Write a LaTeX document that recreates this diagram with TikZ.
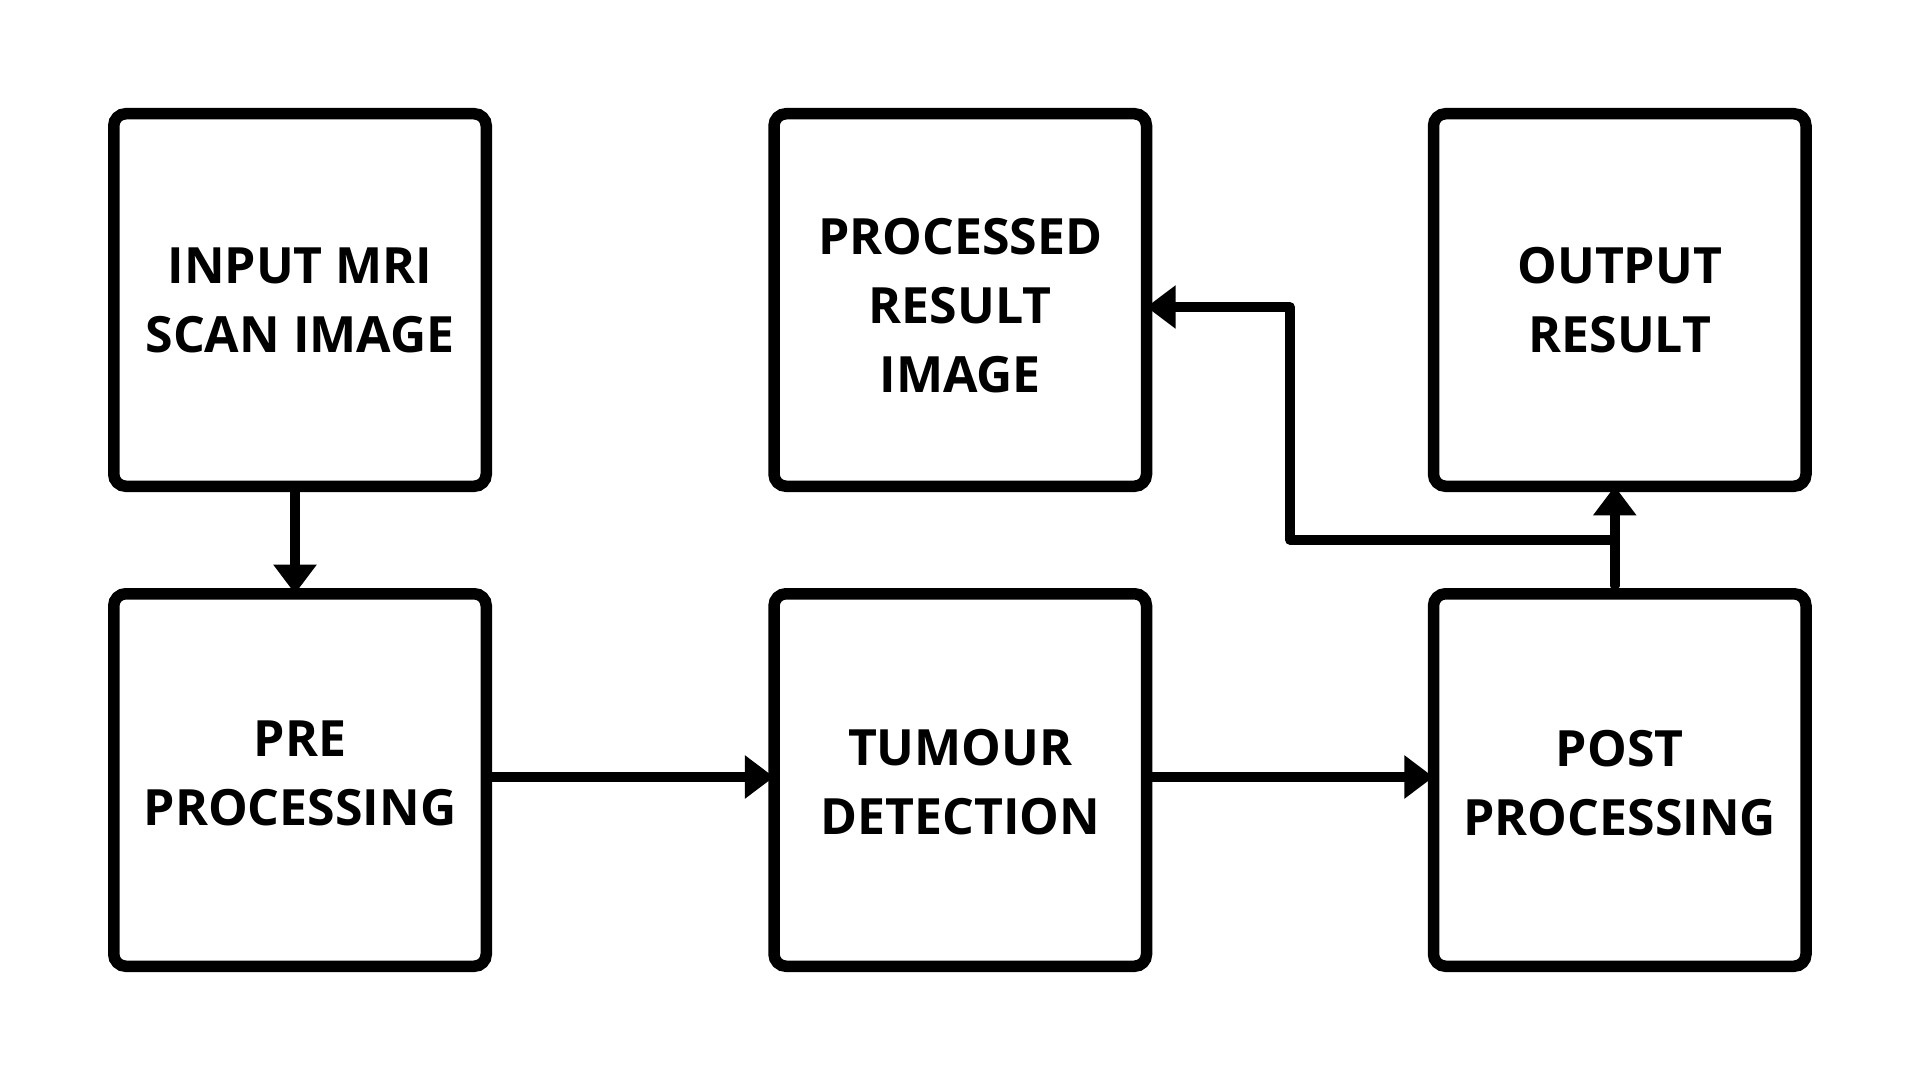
\documentclass[tikz,border=0pt]{standalone}
\usepackage{fontspec}
\setmainfont{Open Sans}
\usetikzlibrary{arrows.meta}
\tikzset{
  box/.style={draw=black, line width=5.75pt, rounded corners=6pt, fill=white,
    minimum width=186.25pt, minimum height=186.25pt, inner sep=0pt, outer sep=0pt},
  lbl/.style={align=center, font=\fontsize{25pt}{34.5pt}\selectfont\bfseries, inner sep=0pt},
  arr/.style={line width=4.75pt, line cap=round, line join=round,
    -{Triangle[scale length=0.85, scale width=1.05]}}
}
\begin{document}
\begin{tikzpicture}
\useasboundingbox[fill=white] (0pt,0pt) rectangle (960pt,-540pt);
% boxes (centres)
\node[box] (in)   at (150pt,-150pt) {};
\node[box] (proc) at (480.125pt,-150pt) {};
\node[box] (out)  at (809.875pt,-150pt) {};
\node[box] (pre)  at (150pt,-390pt) {};
\node[box] (tum)  at (480.125pt,-390pt) {};
\node[box] (post) at (809.875pt,-390pt) {};
% texts
\node[lbl] (tin)   at (in.center)    {INPUT MRI\\SCAN IMAGE};
\node[lbl] (tproc) at ([yshift=-2.75pt]proc.center) {PROCESSED\\RESULT\\IMAGE};
\node[lbl] (tout)  at (out.center)   {OUTPUT\\RESULT};
\node[lbl] (tpre)  at ([yshift=3.5pt]pre.center)  {PRE\\PROCESSING};
\node[lbl] (ttum)  at ([yshift=-1.25pt]tum.center) {TUMOUR\\DETECTION};
\node[lbl] (tpost) at ([yshift=-1.75pt]post.center) {POST\\PROCESSING};
% connectors
\draw[arr] ([xshift=-2.5pt,yshift=-1.5pt]in.south) -- ([xshift=-2.5pt]pre.north);
\draw[arr] ([yshift=1.5pt,xshift=1pt]pre.east) -- ([yshift=1.5pt]tum.west);
\draw[arr] ([yshift=1.5pt,xshift=1.5pt]tum.east) -- ([yshift=1.5pt]post.west);
\draw[arr] ([xshift=-2.5pt,yshift=4pt]post.north) -- ([xshift=-2.5pt]out.south);
\coordinate (j) at (805pt,-270pt);
\coordinate (k) at ([yshift=-3.5pt]proc.east);
\draw[arr] (j) -| (645pt,-153.5pt) -- (k);
\end{tikzpicture}
\end{document}
